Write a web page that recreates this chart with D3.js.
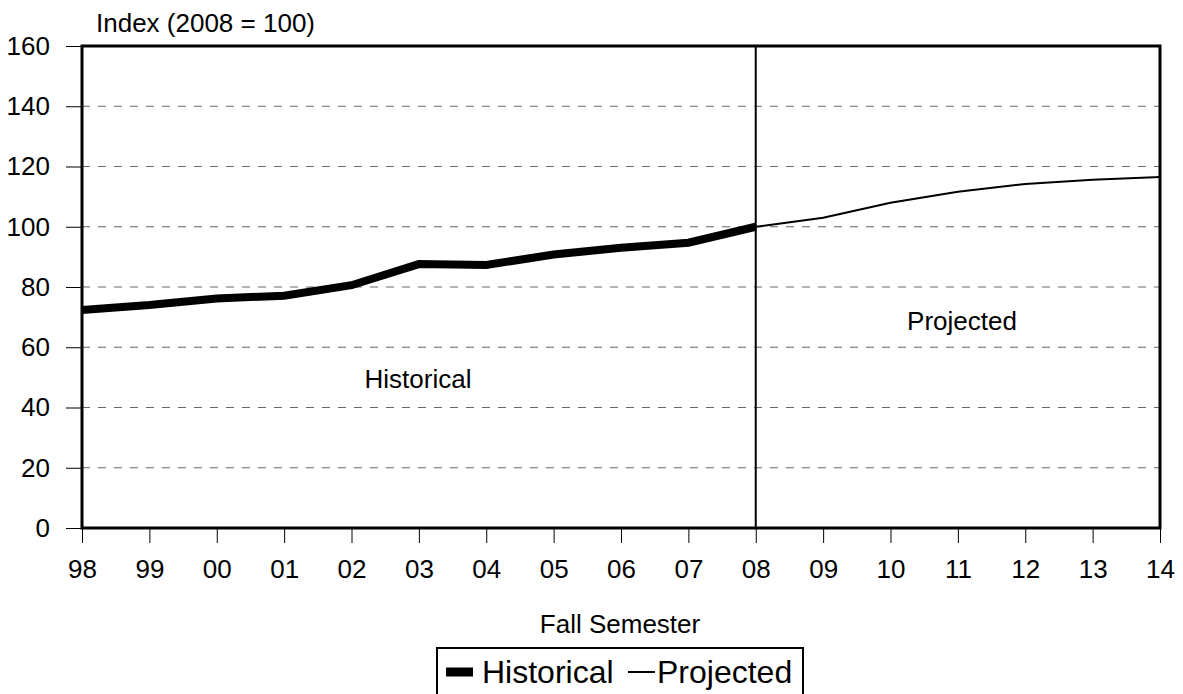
<!DOCTYPE html>
<html>
<head>
<meta charset="utf-8">
<script src="https://cdn.jsdelivr.net/npm/d3@7"></script>
<style>
  body { margin: 0; background: #fff; }
  svg { font-family: "Liberation Sans", Arial, sans-serif; }
</style>
</head>
<body>
<div id="chart"></div>
<script>
const years = ['98','99','00','01','02','03','04','05','06','07','08','09','10','11','12','13','14'];
const historicalYears = ['98','99','00','01','02','03','04','05','06','07','08'];
const historicalValues = [72.4, 74, 76.2, 77.1, 80.6, 87.6, 87.3, 90.8, 93, 94.7, 100];
const projectedYears = ['08','09','10','11','12','13','14'];
const projectedValues = [100, 103, 108, 111.6, 114.2, 115.6, 116.5];
const yTicks = [0, 20, 40, 60, 80, 100, 120, 140, 160];

const width = 1183, height = 694;
const margin = { top: 46, right: 23, bottom: 166, left: 82 };
const innerW = width - margin.left - margin.right;
const innerH = height - margin.top - margin.bottom;

const svg = d3.select('#chart').append('svg')
  .attr('width', width)
  .attr('height', height);

const g = svg.append('g').attr('transform', `translate(${margin.left},${margin.top})`);

const x = d3.scalePoint().domain(years).range([0, innerW]);
const y = d3.scaleLinear().domain([0, 160]).range([innerH, 0]);

// gridlines
g.selectAll('line.grid').data(yTicks.filter(d => d > 0 && d < 160))
  .enter().append('line')
  .attr('class', 'grid')
  .attr('x1', 0).attr('x2', innerW)
  .attr('y1', d => y(d)).attr('y2', d => y(d))
  .attr('stroke', '#666')
  .attr('stroke-width', 1)
  .attr('stroke-dasharray', '8,8');

// y axis
const yAxis = g.append('g')
  .call(d3.axisLeft(y).tickValues(yTicks).tickSize(16).tickPadding(16));
yAxis.select('.domain').remove();
yAxis.selectAll('text').style('font-size', '26px').attr('fill', '#000');
yAxis.selectAll('line').attr('stroke', '#000');

// x axis
const xAxis = g.append('g')
  .attr('transform', `translate(0,${innerH})`)
  .call(d3.axisBottom(x).tickSize(15).tickPadding(17));
xAxis.select('.domain').remove();
xAxis.selectAll('text').style('font-size', '26px').attr('fill', '#000');
xAxis.selectAll('line').attr('stroke', '#000');

// divider at 08
g.append('line')
  .attr('x1', x('08')).attr('x2', x('08'))
  .attr('y1', 0).attr('y2', innerH)
  .attr('stroke', '#000').attr('stroke-width', 2);

const line = d3.line().x(d => x(d[0])).y(d => y(d[1]));

g.append('path')
  .datum(projectedYears.map((d, i) => [d, projectedValues[i]]))
  .attr('d', line)
  .attr('fill', 'none')
  .attr('stroke', '#000')
  .attr('stroke-width', 2);

g.append('path')
  .datum(historicalYears.map((d, i) => [d, historicalValues[i]]))
  .attr('d', line)
  .attr('fill', 'none')
  .attr('stroke', '#000')
  .attr('stroke-width', 8);

// frame
g.append('rect')
  .attr('x', 0).attr('y', 0)
  .attr('width', innerW).attr('height', innerH)
  .attr('fill', 'none')
  .attr('stroke', '#000')
  .attr('stroke-width', 3);

// region labels
svg.append('text')
  .attr('x', 418).attr('y', 388)
  .attr('text-anchor', 'middle')
  .style('font-size', '26px')
  .text('Historical');
svg.append('text')
  .attr('x', 962).attr('y', 330)
  .attr('text-anchor', 'middle')
  .style('font-size', '26px')
  .text('Projected');

// axis titles
svg.append('text')
  .attr('x', 96).attr('y', 32)
  .style('font-size', '26px')
  .text('Index (2008 = 100)');
svg.append('text')
  .attr('x', 620).attr('y', 633)
  .attr('text-anchor', 'middle')
  .style('font-size', '26px')
  .text('Fall Semester');

// legend
const legend = svg.append('g').attr('transform', 'translate(437,648)');
legend.append('rect')
  .attr('width', 366).attr('height', 60)
  .attr('fill', '#fff')
  .attr('stroke', '#000')
  .attr('stroke-width', 2);
const legendItems = [
  { label: 'Historical', w: 9, x0: 9, tx: 45 },
  { label: 'Projected', w: 2, x0: 191, tx: 220 }
];
legendItems.forEach(d => {
  legend.append('line')
    .attr('x1', d.x0).attr('x2', d.x0 + 27)
    .attr('y1', 24).attr('y2', 24)
    .attr('stroke', '#000').attr('stroke-width', d.w);
  legend.append('text')
    .attr('x', d.tx).attr('y', 35)
    .style('font-size', '32px')
    .text(d.label);
});
</script>
</body>
</html>
